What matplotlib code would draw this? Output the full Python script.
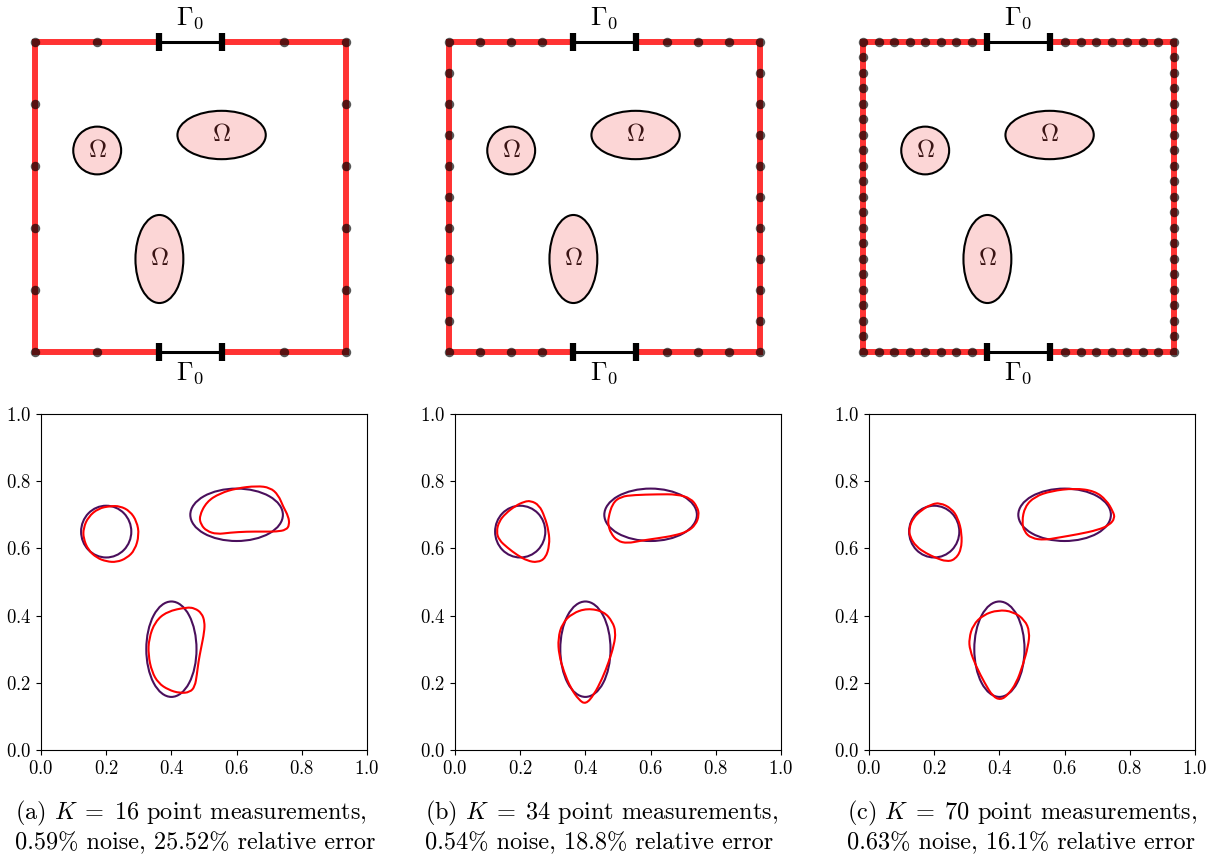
import matplotlib.pyplot as plt
from matplotlib.patches import Ellipse, PathPatch
from matplotlib.path import Path

plt.rcParams['font.family'] = ['cmr10', 'DejaVu Serif']
plt.rcParams['mathtext.fontset'] = 'cm'
plt.rcParams['axes.formatter.use_mathtext'] = True

tags = ['a', 'b', 'c']
n_points = [16, 34, 70]
noise_pct = ['0.59', '0.54', '0.63']
error_pct = ['25.52', '18.8', '16.1']

# sensor positions on the boundary, Gamma_0 = [0.4, 0.6] has none
edge_a = [0.0, 0.2, 0.8, 1.0]
side_a = [0.2, 0.4, 0.6, 0.8]
edge_b = [0.0, 0.1, 0.2, 0.3, 0.7, 0.8, 0.9, 1.0]
side_b = [0.1, 0.2, 0.3, 0.4, 0.5, 0.6, 0.7, 0.8, 0.9]
edge_c = [0.0, 0.05, 0.1, 0.15, 0.2, 0.25, 0.3, 0.35,
          0.65, 0.7, 0.75, 0.8, 0.85, 0.9, 0.95, 1.0]
side_c = [0.05, 0.1, 0.15, 0.2, 0.25, 0.3, 0.35, 0.4, 0.45, 0.5,
          0.55, 0.6, 0.65, 0.7, 0.75, 0.8, 0.85, 0.9, 0.95]
gamma0 = [0.4, 0.6]

# true inclusions
incl_cx = [0.2, 0.6, 0.4]
incl_cy = [0.65, 0.7, 0.3]
incl_rx = [0.077, 0.142, 0.077]
incl_ry = [0.077, 0.078, 0.142]

# reconstructions
circ_a_x = [0.301, 0.294, 0.273, 0.242, 0.212, 0.176, 0.145, 0.130, 0.130, 0.145, 0.171, 0.201, 0.232, 0.263, 0.288]
circ_a_y = [0.640, 0.680, 0.711, 0.726, 0.726, 0.719, 0.694, 0.660, 0.630, 0.595, 0.572, 0.561, 0.559, 0.571, 0.595]
wide_a_x = [0.485, 0.508, 0.549, 0.600, 0.662, 0.703, 0.728, 0.743, 0.759, 0.762, 0.752, 0.723, 0.682, 0.631, 0.580, 0.539, 0.508, 0.491]
wide_a_y = [0.695, 0.739, 0.764, 0.779, 0.786, 0.781, 0.759, 0.724, 0.695, 0.670, 0.655, 0.650, 0.650, 0.650, 0.647, 0.642, 0.652, 0.670]
low_a_x = [0.447, 0.386, 0.350, 0.331, 0.329, 0.340, 0.360, 0.391, 0.426, 0.457, 0.472, 0.478, 0.483, 0.491, 0.501, 0.502, 0.493, 0.472]
low_a_y = [0.425, 0.412, 0.382, 0.332, 0.283, 0.233, 0.199, 0.179, 0.169, 0.172, 0.189, 0.223, 0.263, 0.303, 0.352, 0.382, 0.407, 0.422]

circ_b_x = [0.232, 0.258, 0.275, 0.288, 0.290, 0.278, 0.253, 0.222, 0.191, 0.161, 0.135, 0.127, 0.135, 0.155, 0.186, 0.212]
circ_b_y = [0.742, 0.729, 0.695, 0.650, 0.610, 0.571, 0.558, 0.563, 0.580, 0.602, 0.625, 0.650, 0.680, 0.704, 0.727, 0.739]
wide_b_x = [0.470, 0.483, 0.508, 0.549, 0.621, 0.682, 0.723, 0.743, 0.749, 0.738, 0.713, 0.672, 0.621, 0.570, 0.529, 0.498, 0.478, 0.470]
wide_b_y = [0.690, 0.734, 0.754, 0.759, 0.761, 0.761, 0.749, 0.724, 0.699, 0.670, 0.650, 0.638, 0.630, 0.623, 0.615, 0.622, 0.645, 0.670]
low_b_x = [0.406, 0.457, 0.483, 0.493, 0.488, 0.472, 0.452, 0.426, 0.401, 0.380, 0.355, 0.334, 0.319, 0.316, 0.329, 0.360]
low_b_y = [0.422, 0.412, 0.382, 0.352, 0.313, 0.263, 0.213, 0.164, 0.136, 0.149, 0.184, 0.233, 0.283, 0.332, 0.377, 0.407]

circ_c_x = [0.217, 0.253, 0.273, 0.285, 0.283, 0.263, 0.237, 0.207, 0.176, 0.145, 0.125, 0.123, 0.135, 0.161, 0.191]
circ_c_y = [0.736, 0.719, 0.690, 0.645, 0.595, 0.566, 0.561, 0.571, 0.585, 0.605, 0.635, 0.660, 0.690, 0.714, 0.731]
wide_c_x = [0.469, 0.478, 0.508, 0.559, 0.631, 0.692, 0.728, 0.749, 0.754, 0.738, 0.703, 0.641, 0.580, 0.539, 0.498, 0.476]
wide_c_y = [0.680, 0.724, 0.754, 0.771, 0.779, 0.771, 0.744, 0.709, 0.690, 0.670, 0.655, 0.642, 0.632, 0.625, 0.630, 0.650]
low_c_x = [0.396, 0.442, 0.478, 0.493, 0.488, 0.472, 0.452, 0.426, 0.404, 0.380, 0.355, 0.329, 0.309, 0.307, 0.319, 0.350]
low_c_y = [0.417, 0.412, 0.387, 0.352, 0.308, 0.253, 0.199, 0.164, 0.149, 0.159, 0.199, 0.248, 0.298, 0.332, 0.372, 0.402]

edges = [edge_a, edge_b, edge_c]
sides = [side_a, side_b, side_c]
recon = [
    [(circ_a_x, circ_a_y), (wide_a_x, wide_a_y), (low_a_x, low_a_y)],
    [(circ_b_x, circ_b_y), (wide_b_x, wide_b_y), (low_b_x, low_b_y)],
    [(circ_c_x, circ_c_y), (wide_c_x, wide_c_y), (low_c_x, low_c_y)],
]
caption_left = [15, 425, 847]

W, H = 1218, 855
fig = plt.figure(figsize=(W / 100, H / 100), dpi=100)


def px_axes(left, top, w, h):
    return fig.add_axes([left / W, 1 - (top + h) / H, w / W, h / H])


def closed_curve(xs, ys):
    # smooth closed path through the read points (quadratic bezier pieces)
    pts = list(zip(xs, ys))
    n = len(pts)
    mids = [((pts[k][0] + pts[(k + 1) % n][0]) / 2, (pts[k][1] + pts[(k + 1) % n][1]) / 2)
            for k in range(n)]
    verts = [mids[-1]]
    codes = [Path.MOVETO]
    for k in range(n):
        verts += [pts[k], mids[k]]
        codes += [Path.CURVE3, Path.CURVE3]
    return Path(verts, codes)


red = '#ff3333'
purple = '#4a0f5c'
step = 414

for i in range(3):
    # schematic of the domain
    ax = px_axes(35 + i * step, 42, 311, 310)
    ax.set_xlim(0, 1)
    ax.set_ylim(0, 1)
    ax.axis('off')
    ax.plot([0, 0.4], [1, 1], color=red, lw=4.3, clip_on=False, solid_capstyle='butt')
    ax.plot([0.6, 1, 1, 0.6], [1, 1, 0, 0], color=red, lw=4.3, clip_on=False, solid_joinstyle='miter')
    ax.plot([0.4, 0, 0], [0, 0, 1], color=red, lw=4.3, clip_on=False, solid_joinstyle='miter')
    for yy in [0, 1]:
        ax.plot(gamma0, [yy, yy], color='black', lw=2.2, clip_on=False)
        for xx in gamma0:
            ax.plot([xx, xx], [yy - 0.03, yy + 0.03], color='black', lw=4.5,
                    solid_capstyle='butt', clip_on=False)
    ax.text(0.5, 1.055, r'$\Gamma_0$', ha='center', va='baseline', fontsize=19)
    ax.text(0.5, -0.09, r'$\Gamma_0$', ha='center', va='baseline', fontsize=19)

    e, s = edges[i], sides[i]
    xs = e + e + [0.0] * len(s) + [1.0] * len(s)
    ys = [1.0] * len(e) + [0.0] * len(e) + s + s
    ax.plot(xs, ys, 'o', color='black', alpha=0.66, ms=6.8, mew=0, clip_on=False)

    for cx, cy, rx, ry in zip(incl_cx, incl_cy, incl_rx, incl_ry):
        ax.add_patch(Ellipse((cx, cy), 2 * rx, 2 * ry, facecolor='#fcd6d6',
                             edgecolor='black', lw=1.5))
        ax.text(cx, cy, r'$\Omega$', ha='center', va='center', fontsize=18,
                color='#3a1414')

    # reconstruction
    ax = px_axes(41 + i * step, 414, 326, 336)
    for cx, cy, rx, ry in zip(incl_cx, incl_cy, incl_rx, incl_ry):
        ax.add_patch(Ellipse((cx, cy), 2 * rx, 2 * ry, facecolor='none',
                             edgecolor=purple, lw=1.5))
    for rx_, ry_ in recon[i]:
        ax.add_patch(PathPatch(closed_curve(rx_, ry_), facecolor='none',
                               edgecolor='red', lw=1.5))
    ax.set_xlim(0, 1)
    ax.set_ylim(0, 1)
    ax.set_xticks([0, 0.2, 0.4, 0.6, 0.8, 1.0])
    ax.set_yticks([0, 0.2, 0.4, 0.6, 0.8, 1.0])
    ax.tick_params(labelsize=13.5)

    x0 = caption_left[i]
    fig.text(x0 / W, 1 - 819 / H,
             r'(%s) $K\;=\;%d$ point measurements,' % (tags[i], n_points[i]),
             fontsize=17.5, ha='left', va='baseline')
    fig.text(x0 / W, 1 - 849 / H,
             '%s%% noise, %s%% relative error' % (noise_pct[i], error_pct[i]),
             fontsize=17.5, ha='left', va='baseline')

fig.savefig('out.png', dpi=100)
